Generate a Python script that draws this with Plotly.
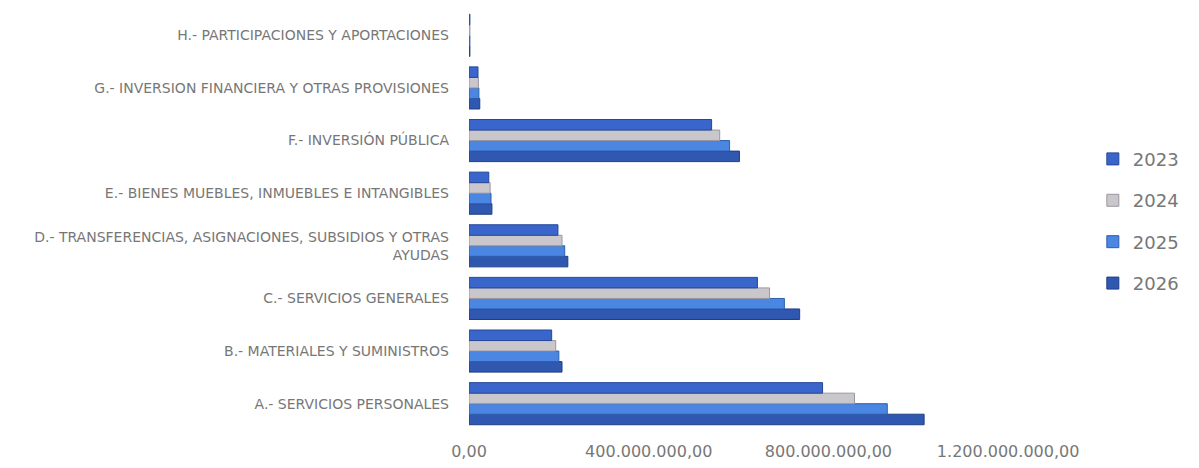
import plotly.graph_objects as go

categories = [
    "A.- SERVICIOS PERSONALES",
    "B.- MATERIALES Y SUMINISTROS",
    "C.- SERVICIOS GENERALES",
    "D.- TRANSFERENCIAS, ASIGNACIONES, SUBSIDIOS Y OTRAS<br>AYUDAS",
    "E.- BIENES MUEBLES, INMUEBLES E INTANGIBLES",
    "F.- INVERSIÓN PÚBLICA",
    "G.- INVERSION FINANCIERA Y OTRAS PROVISIONES",
    "H.- PARTICIPACIONES Y APORTACIONES",
]
v2023 = [787e6, 184e6, 642e6, 198e6, 44e6, 540e6, 20e6, 2e6]
v2024 = [858e6, 193e6, 669e6, 207e6, 47e6, 558e6, 21e6, 2e6]
v2025 = [931e6, 200e6, 702e6, 213e6, 49e6, 580e6, 22e6, 2e6]
v2026 = [1013e6, 207e6, 736e6, 220e6, 51e6, 602e6, 24e6, 2e6]
tick_vals = [0, 400e6, 800e6, 1200e6]

series = [
    ("2026", v2026, "#3058b0", "#1f3f85", 4),
    ("2025", v2025, "#4a86e2", "#2c5fb0", 3),
    ("2024", v2024, "#c9c6cc", "#9a98a0", 2),
    ("2023", v2023, "#3a66cc", "#24479a", 1),
]

FONT = "'DejaVu Sans', sans-serif"

fig = go.Figure()
for name, vals, col, lcol, rank in series:
    fig.add_trace(go.Bar(
        y=categories, x=vals, name=name, orientation="h",
        marker=dict(color=col, line=dict(color=lcol, width=1)),
        legendgroup=name, legendrank=rank,
    ))

fig.update_layout(
    width=1199, height=468,
    margin=dict(l=461, r=127, t=1, b=46),
    plot_bgcolor="white", paper_bgcolor="white",
    barmode="group", bargap=0.2, bargroupgap=0.0,
    separators=",.",
    font=dict(family=FONT, color="#777777", size=14),
    xaxis=dict(range=[0, 1.36e9], tickvals=tick_vals, tickformat=",.2f",
               showgrid=False, zeroline=False, showline=False, automargin=False,
               ticklabelstandoff=10,
               tickfont=dict(family=FONT, size=16, color="#777777"), ticks=""),
    yaxis=dict(showgrid=False, zeroline=False, showline=False, ticks="",
               automargin=False, ticklabelstandoff=19,
               tickfont=dict(family=FONT, size=14, color="#777777")),
    legend=dict(x=1.021, y=0.496, xanchor="left", yanchor="middle",
                traceorder="grouped", tracegroupgap=15,
                font=dict(family=FONT, size=18, color="#777777"), itemwidth=30),
)

fig.write_html("out.html")
